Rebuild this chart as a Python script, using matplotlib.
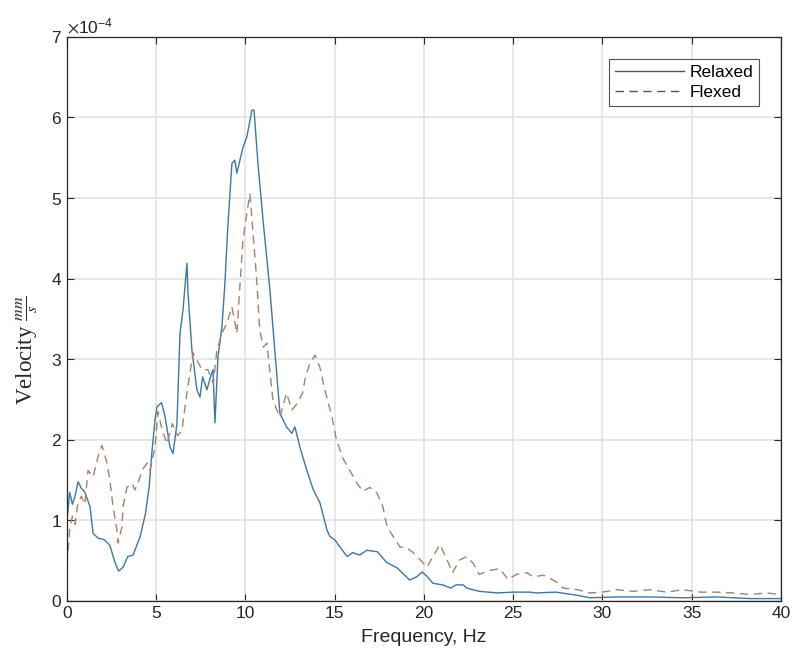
import numpy as np
import matplotlib
matplotlib.use('Agg')
import matplotlib.pyplot as plt

# -------------------- Spectrum data (velocity in 1e-4 mm/s) --------------------
relaxed_freq = [0, 0.15, 0.3, 0.45, 0.62, 0.8, 1.0, 1.29, 1.46, 1.74, 2.1, 2.4, 2.7, 2.9,
                3.14, 3.4, 3.7, 4.1, 4.4, 4.6, 4.75, 4.93, 5.04, 5.3, 5.5, 5.77, 5.94, 6.16,
                6.33, 6.5, 6.72, 6.78, 7.0, 7.28, 7.45, 7.6, 7.84, 8.0, 8.18, 8.29, 8.46,
                8.68, 8.85, 9.0, 9.24, 9.4, 9.52, 9.86, 10.08, 10.36, 10.48, 10.7, 11.0,
                11.37, 11.93, 12.3, 12.6, 12.77, 13.05, 13.44, 13.8, 14.17, 14.57, 14.73,
                15.0, 15.3, 15.7, 16.0, 16.4, 16.8, 17.4, 17.9, 18.5, 19.2, 19.6, 19.9,
                20.2, 20.5, 21.06, 21.5, 21.8, 22.2, 22.4, 23.1, 24.1, 25.0, 25.9, 26.3,
                27.4, 28.6, 29.3, 30.8, 32.7, 34.5, 36.4, 38.3, 40]
relaxed_vel = [1.0, 1.35, 1.2, 1.3, 1.48, 1.4, 1.35, 1.17, 0.84, 0.78, 0.76, 0.69, 0.47, 0.37,
               0.42, 0.55, 0.57, 0.8, 1.09, 1.41, 1.83, 2.25, 2.41, 2.46, 2.28, 1.91, 1.83, 2.2,
               3.32, 3.61, 4.19, 3.82, 3.11, 2.62, 2.53, 2.78, 2.62, 2.75, 2.87, 2.21, 3.03,
               3.4, 3.95, 4.6, 5.43, 5.47, 5.31, 5.63, 5.76, 6.09, 6.09, 5.43, 4.69,
               3.86, 2.33, 2.16, 2.08, 2.16, 1.91, 1.62, 1.38, 1.22, 0.88, 0.8,
               0.76, 0.67, 0.55, 0.6, 0.57, 0.63, 0.61, 0.48, 0.41, 0.26, 0.3, 0.36,
               0.3, 0.22, 0.2, 0.16, 0.2, 0.2, 0.16, 0.12, 0.1, 0.11, 0.11, 0.1,
               0.11, 0.07, 0.04, 0.05, 0.05, 0.04, 0.05, 0.03, 0.03]

flexed_freq = [0, 0.15, 0.3, 0.45, 0.6, 0.8, 1.0, 1.18, 1.46, 1.74, 1.96, 2.24, 2.4, 2.58,
               2.8, 2.86, 3.08, 3.14, 3.36, 3.64, 3.8, 3.98, 4.2, 4.48, 4.65, 4.93, 5.1, 5.3,
               5.6, 5.9, 6.2, 6.44, 6.72, 7.06, 7.28, 7.56, 7.9, 8.2, 8.4, 8.68, 8.96, 9.24,
               9.52, 9.7, 9.86, 10.14, 10.25, 10.53, 10.64, 10.8, 11.0, 11.2, 11.54, 11.93,
               12.3, 12.6, 12.9, 13.2, 13.33, 13.6, 13.9, 14.17, 14.45, 14.85, 15.1, 15.46,
               15.85, 16.25, 16.58, 16.97, 17.37, 17.7, 17.93, 18.4, 18.66, 19.05, 19.4,
               19.8, 20.17, 20.5, 20.9, 21.3, 21.6, 22.0, 22.4, 22.75, 23.1, 23.7, 24.26,
               24.7, 25.2, 25.8, 26.1, 26.7, 27.06, 27.4, 27.8, 28.6, 29.3, 30.0, 30.8,
               31.7, 32.7, 33.6, 34.5, 35.5, 36.4, 37.3, 38.3, 39.2, 40]
flexed_vel = [0.45, 0.9, 1.05, 0.95, 1.2, 1.3, 1.2, 1.62, 1.54, 1.79, 1.93, 1.71, 1.5, 1.17,
              0.88, 0.72, 0.92, 1.17, 1.41, 1.46, 1.38, 1.46, 1.62, 1.71, 1.62, 1.91, 2.35, 2.15,
              1.95, 2.2, 2.05, 2.12, 2.58, 3.08, 2.99, 2.87, 2.87, 2.7, 3.11, 3.32, 3.45, 3.65,
              3.32, 3.95, 4.48, 4.9, 5.05, 4.27, 3.95, 3.36, 3.15, 3.2, 2.49, 2.28,
              2.58, 2.37, 2.45, 2.58, 2.74, 2.95, 3.05, 2.9, 2.62, 2.28, 2.0, 1.77,
              1.62, 1.46, 1.36, 1.41, 1.34, 1.17, 0.92, 0.76, 0.67, 0.66, 0.6,
              0.51, 0.42, 0.55, 0.7, 0.51, 0.35, 0.51, 0.55, 0.47, 0.33, 0.38, 0.40,
              0.27, 0.33, 0.35, 0.3, 0.32, 0.28, 0.24, 0.16, 0.14, 0.1, 0.11, 0.14,
              0.12, 0.14, 0.11, 0.14, 0.11, 0.11, 0.1, 0.08, 0.1, 0.08]

relaxed = np.array(relaxed_vel) * 1e-4
flexed = np.array(flexed_vel) * 1e-4

# -------------------- Plotting --------------------
plt.rcParams['font.family'] = 'Liberation Sans'
plt.rcParams['mathtext.fontset'] = 'stix'

fig = plt.figure(figsize=(7.94, 6.70), dpi=100)
ax = fig.add_axes([0.0844, 0.103, 0.899, 0.842])

ax.plot(relaxed_freq, relaxed, color='#3a78a8', lw=1.0, label='Relaxed')
ax.plot(flexed_freq, flexed, color='#a8806a', lw=1.0, dashes=(6, 4), label='Flexed')

ax.set_xlim(0, 40)
ax.set_ylim(0, 7e-4)
ax.set_xticks(np.arange(0, 41, 5))
ax.set_yticks(np.arange(0, 7.1, 1) * 1e-4)
ax.ticklabel_format(axis='y', style='sci', scilimits=(0, 0), useMathText=True)
ax.yaxis.get_offset_text().set_fontsize(12.5)
ax.yaxis.get_offset_text().set_color('#262626')

ax.grid(True, color='#e3e3e3', lw=1.2)
ax.set_axisbelow(True)
ax.tick_params(direction='in', top=True, right=True, length=5, width=0.8,
               labelsize=12.5, labelcolor='#262626', color='#262626')
for s in ax.spines.values():
    s.set_color('#262626')
    s.set_linewidth(0.9)

ax.set_xlabel('Frequency, Hz', fontsize=14, color='#262626', labelpad=6)
ax.set_ylabel(r'Velocity $\frac{mm}{s}$', fontsize=16.5, family='Liberation Serif',
              color='#262626')
ax.yaxis.set_label_coords(-0.038, 0.445)

leg = ax.legend(loc='upper right', fontsize=12.5, handlelength=4.0, frameon=True,
                fancybox=False, edgecolor='#262626', borderaxespad=1.25,
                labelspacing=0.3, borderpad=0.35, handletextpad=0.3)
leg.get_frame().set_linewidth(0.8)
for h in leg.get_lines():
    h.set_color('#555555')

fig.savefig('out.png', dpi=100)
